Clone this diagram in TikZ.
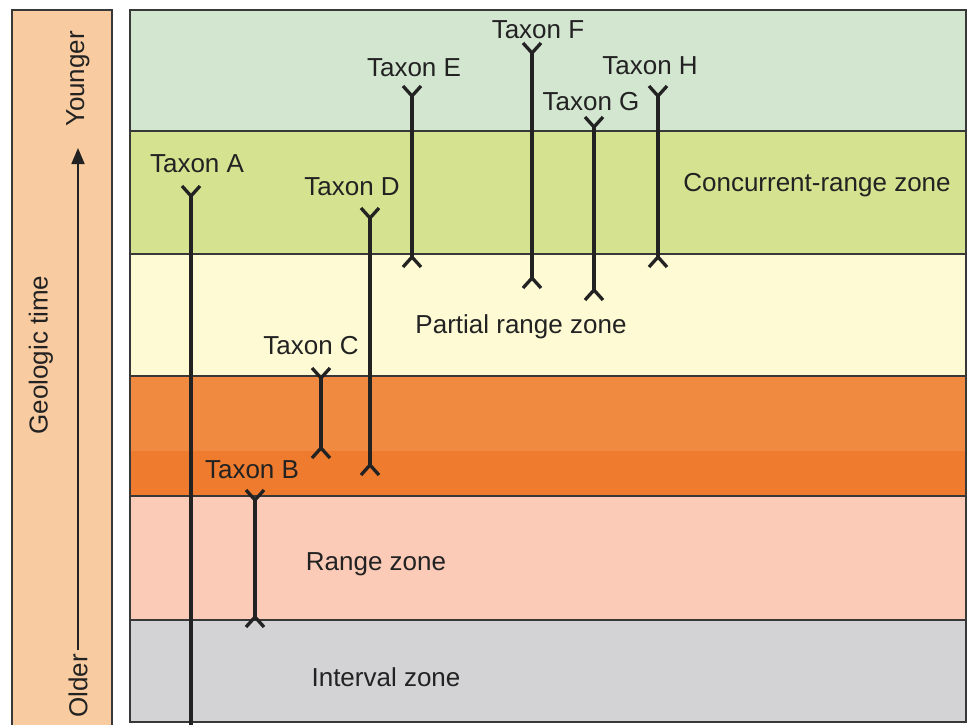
\documentclass[tikz,border=0pt]{standalone}
\usepackage{fontspec}
\setmainfont{Liberation Sans}
\usetikzlibrary{arrows.meta}
\definecolor{timebar}{HTML}{F9CBA0}
\definecolor{zoneone}{HTML}{D3E6D0}
\definecolor{zonetwo}{HTML}{D5E290}
\definecolor{zonethree}{HTML}{FEFAD4}
\definecolor{zonefourA}{HTML}{F08A40}
\definecolor{zonefourB}{HTML}{EE7B2E}
\definecolor{zonefive}{HTML}{FBCBB8}
\definecolor{zonesix}{HTML}{D3D2D4}
\definecolor{inkc}{HTML}{222222}
\begin{document}
\begin{tikzpicture}[x=1pt,y=-1pt,
  lbl/.style={font=\fontsize{26}{30}\selectfont, text=inkc, inner sep=0pt},
  bandline/.style={draw=inkc!90, line width=1.6pt},
  rangeline/.style={draw=inkc, line width=3.3pt, line join=round},
  timearrow/.style={draw=inkc, line width=1.8pt, -{Triangle[length=16pt,width=13pt]}}]
\useasboundingbox (0,0) rectangle (969,724);
\fill[white] (0,0) rectangle (969,724);
\clip (0,0) rectangle (969,724);
% time bar
\filldraw[fill=timebar, bandline] (12,10) rectangle (112,740);
\coordinate (arrowstart) at (78,650);
\coordinate (arrowtip) at (78,148);
\draw[timearrow] (arrowstart) -- (arrowtip);
\node[lbl, rotate=90] (younger) at (78,79) {Younger};
\node[lbl, rotate=90] (older) at (78,686) {Older};
\node[lbl, rotate=90] (geotime) at (41,355) {Geologic time};
% zones
\fill[zoneone] (130,10) rectangle (966,131);
\fill[zonetwo] (130,131) rectangle (966,254);
\fill[zonethree] (130,254) rectangle (966,376);
\fill[zonefourA] (130,376) rectangle (966,451);
\fill[zonefourB] (130,451) rectangle (966,496);
\fill[zonefive] (130,496) rectangle (966,620);
\fill[zonesix] (130,620) rectangle (966,722);
\draw[bandline] (130,10) rectangle (966,722);
\foreach \yy in {131,254,376,496,620} {\draw[bandline] (130,\yy) -- (966,\yy);}
% zone labels
\node[lbl] (concurrent) at (817,185) {Concurrent-range zone};
\node[lbl] (partial) at (521,327) {Partial range zone};
\node[lbl] (range) at (376,564) {Range zone};
\node[lbl] (interval) at (386,677) {Interval zone};
% taxa: name / x / top of arms / bottom of arms / label x / label y
\foreach \n/\x/\t/\b/\lx/\ly in {
  A/191/186/770/197/164,
  B/255/490/627/252/470,
  C/321/368/458/311/346,
  D/370/208/475/352/187,
  E/412/86/267/414/68,
  F/532/43/288/538/30,
  G/594/117/300/591/102,
  H/658/86/267/650/66} {
  \coordinate (\n top) at (\x,\t+10);
  \coordinate (\n bot) at (\x,\b-10);
  \draw[rangeline] (\n top) -- (\n bot);
  \draw[rangeline] (\x-9,\t) -- (\n top) -- (\x+9,\t);
  \draw[rangeline] (\x-9,\b) -- (\n bot) -- (\x+9,\b);
  \node[lbl] (\n label) at (\lx,\ly) {Taxon \n};
}
\end{tikzpicture}
\end{document}
